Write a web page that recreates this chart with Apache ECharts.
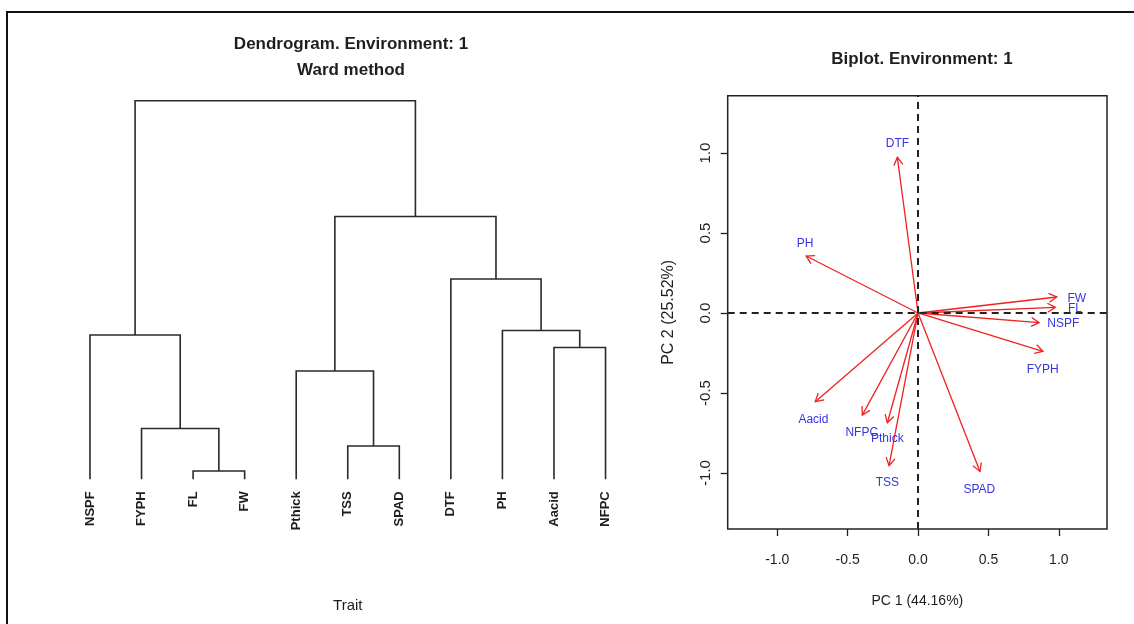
<!DOCTYPE html>
<html>
<head>
<meta charset="utf-8">
<script src="https://cdn.jsdelivr.net/npm/echarts@6/dist/echarts.min.js"></script>
<style>
  html, body { margin: 0; padding: 0; background: #fff; }
  #main { width: 1134px; height: 624px; }
</style>
</head>
<body>
<div id="main"></div>
<script>
// dendrogram (Ward) - leaf order as drawn, merges in R hclust style
// negative = leaf (1-based), positive = earlier merge row
var leafNames = ['NSPF', 'FYPH', 'FL', 'FW', 'Pthick', 'TSS', 'SPAD', 'DTF', 'PH', 'Aacid', 'NFPC'];
var mergeA = [-3, -6, -2, -5, -10, -1, -9, -8, 4, 6];
var mergeB = [-4, -7, 1, 2, -11, 3, 5, 7, 8, 9];
var mergeHeight = [0.22, 0.88, 1.34, 2.86, 3.48, 3.81, 3.93, 5.29, 6.94, 10];

// biplot - arrow tips and label positions
var traitNames = ['DTF', 'PH', 'FW', 'FL', 'NSPF', 'FYPH', 'Aacid', 'NFPC', 'Pthick', 'TSS', 'SPAD'];
var pc1 = [-0.147, -0.795, 0.985, 0.975, 0.86, 0.887, -0.73, -0.396, -0.218, -0.206, 0.44];
var pc2 = [0.973, 0.356, 0.10, 0.035, -0.06, -0.24, -0.554, -0.638, -0.686, -0.954, -0.99];
var labelX = [-0.146, -0.803, 1.127, 1.115, 1.032, 0.885, -0.743, -0.40, -0.218, -0.218, 0.435];
var labelY = [1.061, 0.431, 0.092, 0.029, -0.064, -0.352, -0.669, -0.748, -0.783, -1.058, -1.106];
var tickValues = [-1, -0.5, 0, 0.5, 1];

var font = "'Liberation Sans', Arial, sans-serif";
var ink = '#1e1e1e';
var red = '#ee2222';
var blue = '#3434e4';

// layout of the tree: node x = middle of its two children
var nodeX = [];
var dendroRows = [];
function nodePos(ref) {
  if (ref < 0) return [-ref - 1, 0];
  return [nodeX[ref - 1], mergeHeight[ref - 1]];
}
for (var i = 0; i < mergeA.length; i++) {
  var a = nodePos(mergeA[i]);
  var b = nodePos(mergeB[i]);
  nodeX.push((a[0] + b[0]) / 2);
  dendroRows.push([a[0], a[1], b[0], b[1], mergeHeight[i]]);
}
var leafIdx = leafNames.map(function (n, i) { return i; });

var arrowRows = [];
var labelRows = [];
for (var j = 0; j < traitNames.length; j++) {
  arrowRows.push([pc1[j], pc2[j]]);
  labelRows.push([labelX[j], labelY[j], traitNames[j]]);
}

var myChart = echarts.init(document.getElementById('main'));
myChart.setOption({
  animation: false,
  backgroundColor: '#fff',
  graphic: [{
    type: 'rect',
    silent: true,
    shape: { x: 7, y: 12, width: 1150, height: 650 },
    style: { fill: null, stroke: '#111', lineWidth: 2 }
  }],
  title: [
    {
      text: 'Dendrogram. Environment: 1\nWard method',
      left: 346, top: 26, textAlign: 'center',
      textStyle: { fontFamily: font, fontSize: 17, fontWeight: 'bold', lineHeight: 26, color: ink }
    },
    {
      text: 'Biplot. Environment: 1',
      left: 917, top: 46, textAlign: 'center',
      textStyle: { fontFamily: font, fontSize: 17, fontWeight: 'bold', color: ink }
    }
  ],
  grid: [
    { left: 64.2, right: 502.7, top: 100.7, bottom: 144.7 },
    { left: 727.7, right: 27, top: 95.7, bottom: 95, show: true, borderColor: '#222', borderWidth: 1.5, backgroundColor: 'transparent' }
  ],
  xAxis: [
    {
      type: 'value', gridIndex: 0, min: -0.5, max: 10.5,
      axisLine: { show: false, onZero: false },
      axisTick: { show: false },
      splitLine: { show: false },
      axisLabel: {
        customValues: leafIdx,
        formatter: function (v) { return leafNames[v]; },
        rotate: 90, margin: 12,
        fontFamily: font, fontSize: 13, fontWeight: 'bold', color: ink
      },
      name: 'Trait', nameLocation: 'middle', nameGap: 119,
      nameTextStyle: { fontFamily: font, fontSize: 15, color: ink }
    },
    {
      type: 'value', gridIndex: 1, min: -1.352, max: 1.342,
      axisLine: { show: false, onZero: false },
      splitLine: { show: false },
      axisTick: { show: true, length: 7, customValues: tickValues, lineStyle: { color: '#222', width: 1.3 } },
      axisLabel: {
        customValues: tickValues,
        formatter: function (v) { return v.toFixed(1); },
        margin: 24, fontFamily: font, fontSize: 14, color: ink
      },
      name: 'PC 1 (44.16%)', nameLocation: 'middle', nameGap: 65,
      nameTextStyle: { fontFamily: font, fontSize: 14, color: ink }
    }
  ],
  yAxis: [
    { type: 'value', gridIndex: 0, min: 0, max: 10, show: false },
    {
      type: 'value', gridIndex: 1, min: -1.35, max: 1.358,
      axisLine: { show: false, onZero: false },
      splitLine: { show: false },
      axisTick: { show: true, length: 7, customValues: tickValues, lineStyle: { color: '#222', width: 1.3 } },
      axisLabel: {
        customValues: tickValues,
        formatter: function (v) { return v.toFixed(1); },
        rotate: 90, margin: 14, fontFamily: font, fontSize: 15, color: ink
      },
      name: 'PC 2 (25.52%)', nameLocation: 'middle', nameGap: 51,
      nameTextStyle: { fontFamily: font, fontSize: 16, color: ink }
    }
  ],
  series: [
    {
      // dendrogram branches
      type: 'custom',
      xAxisIndex: 0, yAxisIndex: 0,
      silent: true,
      data: dendroRows,
      renderItem: function (params, api) {
        var p1 = api.coord([api.value(0), api.value(1)]);
        var p1t = api.coord([api.value(0), api.value(4)]);
        var p2t = api.coord([api.value(2), api.value(4)]);
        var p2 = api.coord([api.value(2), api.value(3)]);
        return {
          type: 'polyline',
          shape: { points: [p1, p1t, p2t, p2] },
          style: { fill: null, stroke: '#2a2a2a', lineWidth: 1.6 }
        };
      }
    },
    {
      // zero reference lines
      type: 'line',
      xAxisIndex: 1, yAxisIndex: 1,
      data: [],
      silent: true,
      markLine: {
        silent: true, symbol: 'none', label: { show: false },
        lineStyle: { color: '#222', type: [7, 5], width: 2 },
        data: [{ xAxis: 0 }, { yAxis: 0 }]
      }
    },
    {
      // loadings arrows
      type: 'custom',
      xAxisIndex: 1, yAxisIndex: 1,
      silent: true,
      data: arrowRows,
      z: 3,
      renderItem: function (params, api) {
        var o = api.coord([0, 0]);
        var t = api.coord([api.value(0), api.value(1)]);
        var ang = Math.atan2(t[1] - o[1], t[0] - o[0]);
        var len = 9, spread = Math.PI / 6;
        var h1 = [t[0] - len * Math.cos(ang - spread), t[1] - len * Math.sin(ang - spread)];
        var h2 = [t[0] - len * Math.cos(ang + spread), t[1] - len * Math.sin(ang + spread)];
        return {
          type: 'group',
          children: [
            { type: 'line', shape: { x1: o[0], y1: o[1], x2: t[0], y2: t[1] }, style: { stroke: red, lineWidth: 1.3 } },
            { type: 'polyline', shape: { points: [h1, t, h2] }, style: { stroke: red, fill: null, lineWidth: 1.3 } }
          ]
        };
      }
    },
    {
      // trait labels
      type: 'custom',
      xAxisIndex: 1, yAxisIndex: 1,
      silent: true,
      data: labelRows,
      z: 4,
      renderItem: function (params, api) {
        var p = api.coord([api.value(0), api.value(1)]);
        return {
          type: 'text',
          x: p[0], y: p[1],
          style: {
            text: traitNames[params.dataIndex],
            fill: blue, fontFamily: font, fontSize: 12,
            align: 'center', verticalAlign: 'middle'
          }
        };
      }
    }
  ]
});
</script>
</body>
</html>
